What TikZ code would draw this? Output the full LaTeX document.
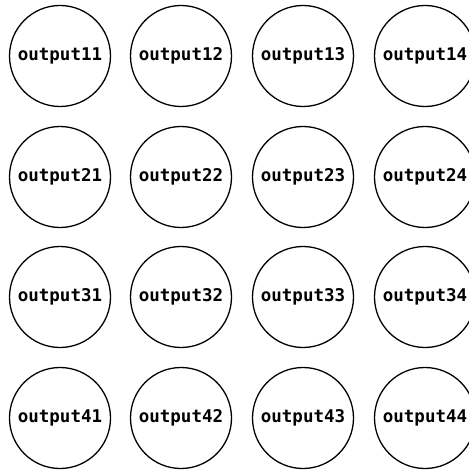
\documentclass[tikz,border=0pt]{standalone}
\usepackage{fontspec}
\setmonofont{DejaVu Sans Mono}
\begin{document}
\begin{tikzpicture}[x=1pt,y=1pt,
  outnode/.style={circle,draw=black,line width=1.3pt,minimum size=101pt,inner sep=0pt,
    font=\ttfamily\bfseries\fontsize{17.5}{19}\selectfont}]
\useasboundingbox (0,0) rectangle (468,-470);
\foreach \r/\y in {1/-56,2/-177,3/-297,4/-418}{
  \foreach \c/\x in {1/60,2/181,3/303,4/425}{
    \node[outnode] (o\r\c) at (\x,\y) {output\r\c};
  }
}
\end{tikzpicture}
\end{document}
